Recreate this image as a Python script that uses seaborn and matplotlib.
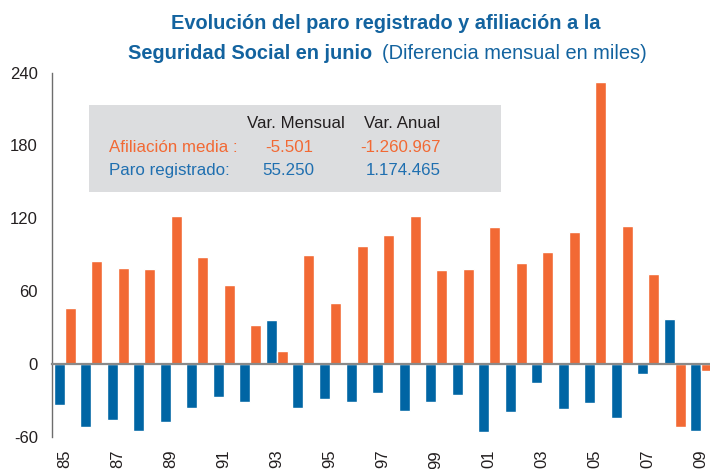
import numpy as np
import pandas as pd
import matplotlib
matplotlib.use("Agg")
import matplotlib.pyplot as plt
import matplotlib.transforms as mtransforms
from matplotlib.patches import Rectangle
import seaborn as sns

# datos (miles), junio de cada año
years = ['85', '86', '87', '88', '89', '90', '91', '92', '93', '94', '95', '96',
         '97', '98', '99', '00', '01', '02', '03', '04', '05', '06', '07', '08', '09']
afiliacion = [46, 85, 79, 78, 122, 88, 65, 32, 11, 90, 50, 97,
              106, 122, 77, 78, 113, 83, 92, 109, 232, 114, 74, -52, -5.5]
paro = [-34, -52, -46, -55, -47.5, -36, -27, -31, 36, -36, -29, -31,
        -24, -38.5, -31, -26, -56.5, -40, -15.5, -37, -32, -45, -8, 37, -55]
yticks = [-60, 0, 60, 120, 180, 240]

tabla_cab = ['Var. Mensual', 'Var. Anual']
tabla_afil = ['Afiliación media :', '-5.501', '-1.260.967']
tabla_paro = ['Paro registrado:', '55.250', '1.174.465']

naranja = '#f26934'
azul = '#0065a4'
azul_txt = '#1f6fb0'
azul_tit = '#13639f'
fs_tab = 12.2
fs_tit = 14.4

sns.set_style('white')
plt.rcParams['font.family'] = ['Liberation Sans', 'DejaVu Sans']
plt.rcParams['axes.unicode_minus'] = False

df = pd.DataFrame({
    'año': years * 2,
    'serie': ['Paro registrado'] * len(years) + ['Afiliación media'] * len(years),
    'valor': paro + afiliacion,
})

fig = plt.figure(figsize=(7.1, 4.69), dpi=100)
ax = fig.add_axes([0.0728, 0.0689, 0.9333, 0.7761])

sns.barplot(data=df, x='año', y='valor', hue='serie',
            hue_order=['Paro registrado', 'Afiliación media'],
            palette=[azul, naranja], width=0.83, gap=0, saturation=1,
            legend=False, ax=ax)

ax.set_xlim(-0.5, len(years) - 0.5)
ax.set_ylim(-60, 240)
ax.set_yticks(yticks)
ax.set_xlabel('')
ax.set_ylabel('')

# eje x en el cero, marcas cada dos años
ax.set_xticks(np.arange(-0.5, len(years) - 1, 2))
ax.tick_params(axis='x', labelbottom=False, length=4, width=1, color='#333333', direction='out')
ax.tick_params(axis='y', labelsize=12, labelcolor='#231f20', length=5, width=1,
               color='#555555', direction='out', pad=5)
ax.spines['top'].set_visible(False)
ax.spines['right'].set_visible(False)
ax.spines['bottom'].set_position(('data', 0))
ax.spines['bottom'].set_color('#8a8a8a')
ax.spines['bottom'].set_linewidth(1.6)
ax.spines['left'].set_color('#6d6d6d')
ax.spines['left'].set_linewidth(1)

trans = mtransforms.blended_transform_factory(ax.transData, ax.transAxes)
for i, a in enumerate(years):
    if i % 2 == 0:
        ax.text(i, -0.036, a, transform=trans, rotation=90, ha='center', va='top',
                fontsize=12, color='#231f20')

# cuadro gris
fig.patches.append(Rectangle((0.1254, 0.5906), 0.5803, 0.1855, transform=fig.transFigure,
                             facecolor='#dcdddf', edgecolor='none', zorder=3))
fig.text(0.4859, 0.7377, tabla_cab[0], ha='right', va='center', fontsize=fs_tab, color='#231f20', zorder=4)
fig.text(0.6197, 0.7377, tabla_cab[1], ha='right', va='center', fontsize=fs_tab, color='#231f20', zorder=4)
fig.text(0.1535, 0.6851, tabla_afil[0], ha='left', va='center', fontsize=fs_tab, color=naranja, zorder=4)
fig.text(0.4408, 0.6851, tabla_afil[1], ha='right', va='center', fontsize=fs_tab, color=naranja, zorder=4)
fig.text(0.6211, 0.6851, tabla_afil[2], ha='right', va='center', fontsize=fs_tab, color=naranja, zorder=4)
fig.text(0.1535, 0.6375, tabla_paro[0], ha='left', va='center', fontsize=fs_tab, color=azul_txt, zorder=4)
fig.text(0.4423, 0.6375, tabla_paro[1], ha='right', va='center', fontsize=fs_tab, color=azul_txt, zorder=4)
fig.text(0.6211, 0.6375, tabla_paro[2], ha='right', va='center', fontsize=fs_tab, color=azul_txt, zorder=4)

# titulo
fig.text(0.5437, 0.9375, 'Evolución del paro registrado y afiliación a la', ha='center',
         va='baseline', fontsize=fs_tit, fontweight='bold', color=azul_tit)
fig.text(0.5235, 0.8736, 'Seguridad Social en junio', ha='right', va='baseline',
         fontsize=fs_tit, fontweight='bold', color=azul_tit)
fig.text(0.5376, 0.8736, '(Diferencia mensual en miles)', ha='left', va='baseline',
         fontsize=fs_tit, color=azul_tit)

fig.savefig('out.png', dpi=100)
